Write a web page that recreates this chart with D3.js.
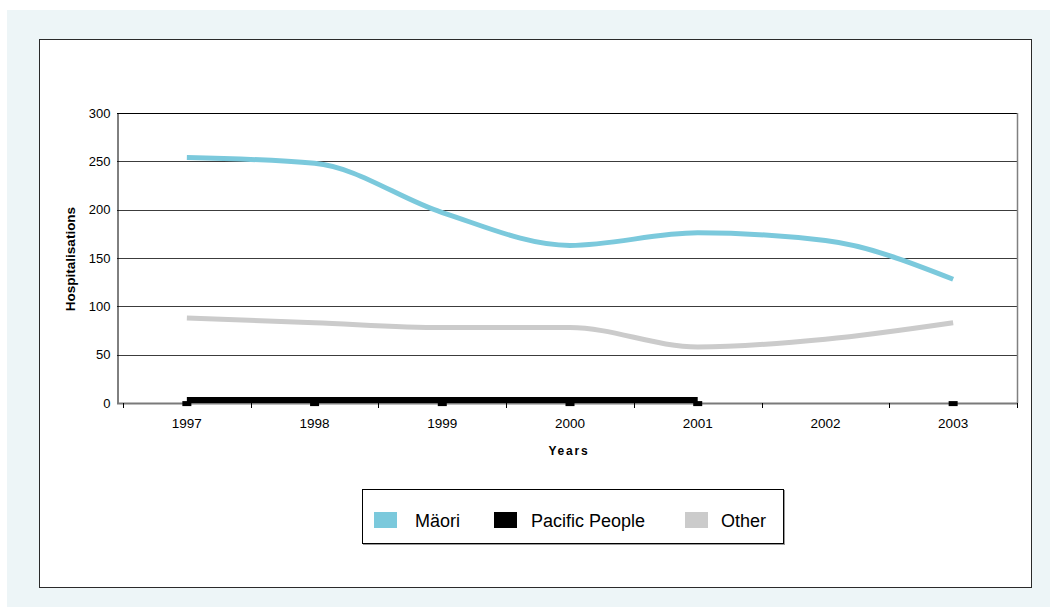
<!DOCTYPE html>
<html>
<head>
<meta charset="utf-8">
<script src="https://cdn.jsdelivr.net/npm/d3@7"></script>
<style>
  html, body { margin: 0; padding: 0; background: #ffffff; }
  svg { display: block; font-family: "Liberation Sans", Arial, sans-serif; }
</style>
</head>
<body>
<svg id="chart" width="1050" height="609"></svg>
<script>
// Hospitalisations by ethnic group, 1997-2003
const years = ['1997', '1998', '1999', '2000', '2001', '2002', '2003'];
const maoriValues = [254, 248, 197, 163, 176, 168, 128];
const pacificValues = [3, 3, 3, 3, 3, null, 3];
const otherValues = [88, 83, 78, 78, 58, 66, 83];
const yTickValues = [0, 50, 100, 150, 200, 250, 300];
const legendLabels = ['Mäori', 'Pacific People', 'Other'];
const seriesColors = ['#7BC9DC', '#000000', '#CBCBCB'];

const svg = d3.select('#chart');

// page panel and chart frame
svg.append('rect').attr('x', 7).attr('y', 10).attr('width', 1043).attr('height', 597)
  .attr('fill', '#EDF5F7');
svg.append('rect').attr('x', 39.5).attr('y', 39.5).attr('width', 992).attr('height', 548)
  .attr('fill', '#ffffff').attr('stroke', '#2a2a2a').attr('stroke-width', 1);

const plot = { left: 117, right: 1017, top: 113, bottom: 403, bandStart: 123 };

const x = d3.scaleBand().domain(years).range([plot.bandStart, plot.right]).padding(0);
const y = d3.scaleLinear().domain([0, 300]).range([plot.bottom, plot.top]);
const cx = d => x(d) + x.bandwidth() / 2;

// horizontal gridlines
svg.append('g').selectAll('line').data(yTickValues.filter(v => v > 0)).join('line')
  .attr('x1', plot.left).attr('x2', plot.right)
  .attr('y1', d => Math.round(y(d)) + 0.5).attr('y2', d => Math.round(y(d)) + 0.5)
  .attr('stroke', d => d === 300 ? '#000' : '#3c3c3c').attr('stroke-width', 1);

// right border of the plot
svg.append('line').attr('x1', plot.right + 0.5).attr('x2', plot.right + 0.5)
  .attr('y1', plot.top).attr('y2', plot.bottom)
  .attr('stroke', '#808080').attr('stroke-width', 1.5);

// y axis
const yAxis = svg.append('g').attr('transform', `translate(${plot.left + 0.5},0)`)
  .call(d3.axisLeft(y).tickValues(yTickValues).tickSize(0).tickPadding(7));
yAxis.select('.domain').attr('stroke', '#000').attr('stroke-width', 1);
yAxis.selectAll('text').attr('font-size', 13).attr('fill', '#000')
  .attr('font-family', '"Liberation Sans", Arial, sans-serif');

// x axis: baseline, tick marks between categories, labels centred in bands
svg.append('line').attr('x1', plot.left).attr('x2', plot.right)
  .attr('y1', plot.bottom + 0.5).attr('y2', plot.bottom + 0.5)
  .attr('stroke', '#7a7a7a').attr('stroke-width', 2);
const boundaries = years.map(d => x(d)).concat([x.range()[1]]);
svg.append('g').selectAll('line').data(boundaries).join('line')
  .attr('x1', d => Math.round(d) + 0.5).attr('x2', d => Math.round(d) + 0.5)
  .attr('y1', plot.bottom).attr('y2', plot.bottom + 5)
  .attr('stroke', '#000').attr('stroke-width', 1);
svg.append('g').selectAll('text').data(years).join('text')
  .attr('x', d => cx(d)).attr('y', 428)
  .attr('text-anchor', 'middle').attr('font-size', 13.5).attr('fill', '#000')
  .text(d => d);

// axis titles
svg.append('text').attr('x', 569).attr('y', 455).attr('text-anchor', 'middle')
  .attr('font-size', 12).attr('font-weight', 'bold').attr('letter-spacing', 1.8)
  .text('Years');
svg.append('text').attr('transform', 'translate(75,259) rotate(-90)')
  .attr('text-anchor', 'middle').attr('font-size', 13.5).attr('font-weight', 'bold')
  .text('Hospitalisations');

// series lines
const smooth = d3.line().defined(d => d.v != null)
  .x(d => cx(d.year)).y(d => y(d.v)).curve(d3.curveMonotoneX);
const toPoints = vals => years.map((year, i) => ({ year, v: vals[i] }));

svg.append('path').datum(toPoints(otherValues)).attr('d', smooth)
  .attr('fill', 'none').attr('stroke', seriesColors[2]).attr('stroke-width', 5);
svg.append('path').datum(toPoints(maoriValues)).attr('d', smooth)
  .attr('fill', 'none').attr('stroke', seriesColors[0]).attr('stroke-width', 5);

const straight = d3.line().defined(d => d.v != null)
  .x(d => cx(d.year)).y(d => y(d.v));
svg.append('path').datum(toPoints(pacificValues)).attr('d', straight)
  .attr('fill', 'none').attr('stroke', seriesColors[1]).attr('stroke-width', 6)
  .attr('stroke-linecap', 'butt');
svg.append('g').selectAll('rect').data(toPoints(pacificValues).filter(d => d.v != null)).join('rect')
  .attr('x', d => cx(d.year) - 4.5).attr('y', d => y(d.v) + 1)
  .attr('width', 9).attr('height', 5).attr('fill', seriesColors[1]);

// legend
const legend = svg.append('g');
legend.append('rect').attr('x', 363).attr('y', 490).attr('width', 422).attr('height', 55)
  .attr('fill', '#9a9a9a');
legend.append('rect').attr('x', 362.5).attr('y', 489.5).attr('width', 421).attr('height', 54)
  .attr('fill', '#ffffff').attr('stroke', '#000').attr('stroke-width', 1);
const swatchX = [374, 494, 685];
const labelX = [415, 531, 721];
legendLabels.forEach((label, i) => {
  legend.append('rect').attr('x', swatchX[i]).attr('y', 512).attr('width', 23).attr('height', 16)
    .attr('fill', seriesColors[i]);
  legend.append('text').attr('x', labelX[i]).attr('y', 527)
    .attr('font-size', 18).attr('fill', '#000').text(label);
});
</script>
</body>
</html>
